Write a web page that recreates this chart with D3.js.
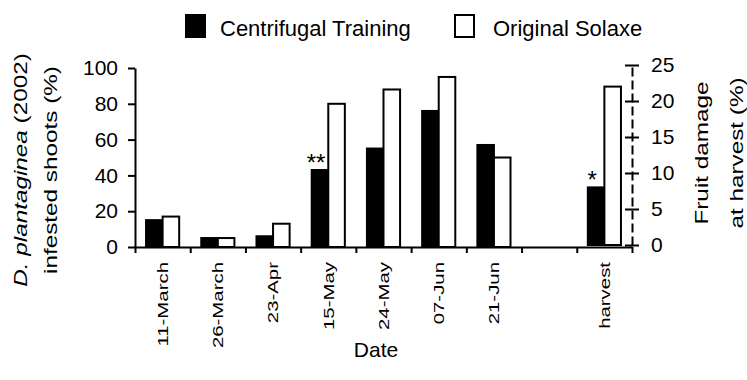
<!DOCTYPE html>
<html>
<head>
<meta charset="utf-8">
<script src="https://cdn.jsdelivr.net/npm/d3@7"></script>
<style>
  body { margin: 0; background: #fff; }
  svg { font-family: "Liberation Sans", Arial, sans-serif; }
  .axis path, .axis line { stroke: #000; stroke-width: 2; }
  .axis text { font-size: 21px; fill: #000; }
</style>
</head>
<body>
<svg id="chart" width="747" height="380"></svg>
<script>
// dates sampled; the empty slot is a gap before harvest
var dates = ["11-March", "26-March", "23-Apr", "15-May", "24-May", "07-Jun", "21-Jun", "", "harvest"];
// infested shoots (%) for the dates, fruit damage (%) for harvest
var centrifugal = [15, 5, 6, 43, 55, 76, 57, null, 8];
var solaxe = [17, 5, 13, 80, 88, 95, 50, null, 22];
var signif = ["", "", "", "**", "", "", "", "", "*"];
var rightAxisDate = "harvest";
var leftTicks = [0, 20, 40, 60, 80, 100];
var rightTicks = [0, 5, 10, 15, 20, 25];
var keys = ["centrifugal", "solaxe"];
var legendLabels = ["Centrifugal Training", "Original Solaxe"];

var svg = d3.select("#chart");

var x0 = d3.scaleBand()
    .domain(dates)
    .range([135, 632])
    .paddingInner(0.4)
    .paddingOuter(0.2);

var x1 = d3.scaleBand()
    .domain(keys)
    .range([0, x0.bandwidth()]);

var xEdge = d3.scaleLinear()
    .domain([0, dates.length])
    .range([135, 632]);

var yLeft = d3.scaleLinear().domain([0, 100]).range([247, 68]);
var yRight = d3.scaleLinear().domain([0, 25]).range([245, 65]);

var data = dates.map(function(d, i) {
  return { date: d, centrifugal: centrifugal[i], solaxe: solaxe[i], star: signif[i] };
});

function yFor(d) { return d.date === rightAxisDate ? yRight : yLeft; }

// bars
var groups = svg.append("g")
  .selectAll("g")
  .data(data.filter(function(d) { return d.centrifugal !== null; }))
  .enter().append("g")
    .attr("transform", function(d) { return "translate(" + x0(d.date) + ",0)"; });

groups.selectAll("rect")
  .data(function(d) {
    var y = yFor(d);
    return keys.map(function(k) { return { key: k, value: d[k], y: y }; });
  })
  .enter().append("rect")
    .attr("x", function(d) { return x1(d.key); })
    .attr("y", function(d) { return d.y(d.value); })
    .attr("width", x1.bandwidth())
    .attr("height", function(d) { return d.y(0) - d.y(d.value); })
    .attr("fill", function(d) { return d.key === "centrifugal" ? "#000" : "#fff"; })
    .attr("stroke", "#000")
    .attr("stroke-width", 2);

// significance stars
groups.filter(function(d) { return d.star; })
  .append("text")
    .attr("x", x1("centrifugal") + x1.bandwidth() / 2 - 4)
    .attr("y", function(d) { return yFor(d)(d.centrifugal) + 1; })
    .attr("text-anchor", "middle")
    .attr("font-size", 24)
    .attr("fill", "#000")
    .text(function(d) { return d.star; });

// x axis: line with ticks at band edges
svg.append("g")
    .attr("class", "axis")
    .attr("transform", "translate(0,247)")
    .call(d3.axisBottom(xEdge).tickValues(d3.range(dates.length + 1)).tickFormat("").tickSizeInner(6).tickSizeOuter(0));

var xLab = svg.append("g")
    .attr("class", "axis")
    .attr("transform", "translate(0,247)")
    .call(d3.axisBottom(x0).tickSize(0));
xLab.select(".domain").remove();
xLab.selectAll("text")
    .attr("x", 0)
    .attr("y", 0)
    .attr("dy", "0.35em")
    .style("font-size", "15px")
    .attr("text-anchor", "end")
    .attr("transform", "translate(0,15) rotate(-90) scale(1.36,1)");

// left axis
svg.append("g")
    .attr("class", "axis")
    .attr("transform", "translate(135,0)")
    .call(d3.axisLeft(yLeft).tickValues(leftTicks).tickSizeInner(7).tickSizeOuter(0).tickPadding(10));

// right axis, ticks cross the line
var ra = svg.append("g")
    .attr("class", "axis")
    .attr("transform", "translate(632,0)")
    .call(d3.axisRight(yRight).tickValues(rightTicks).tickSizeInner(7).tickSizeOuter(0).tickPadding(12));
ra.selectAll(".tick line").attr("x1", -7);
ra.select(".domain").attr("stroke-dasharray", "9,4");

// axis titles
var lt = svg.append("g")
    .attr("transform", "translate(0,170) rotate(-90) scale(1.35,1)")
    .attr("font-size", 18)
    .attr("text-anchor", "middle");
var l1 = lt.append("text").attr("y", 27);
l1.append("tspan").attr("font-style", "italic").text("D. plantaginea");
l1.append("tspan").text(" (2002)");
lt.append("text").attr("y", 57).text("infested shoots (%)");

var rt = svg.append("g")
    .attr("transform", "translate(0,153) rotate(-90) scale(1.35,1)")
    .attr("font-size", 18)
    .attr("text-anchor", "middle");
rt.append("text").attr("y", 708).text("Fruit damage");
rt.append("text").attr("y", 743).text("at harvest (%)");

svg.append("text")
    .attr("x", 376)
    .attr("y", 357)
    .attr("text-anchor", "middle")
    .attr("font-size", 21)
    .text("Date");

// legend
var legX = [185, 454];
var legend = svg.append("g")
  .selectAll("g")
  .data(keys)
  .enter().append("g")
    .attr("transform", function(d, i) { return "translate(" + legX[i] + ",0)"; });

legend.append("rect")
    .attr("x", 1)
    .attr("y", 15)
    .attr("width", 19)
    .attr("height", 22)
    .attr("fill", function(d) { return d === "centrifugal" ? "#000" : "#fff"; })
    .attr("stroke", "#000")
    .attr("stroke-width", 2);

legend.append("text")
    .attr("x", function(d, i) { return i === 0 ? 35 : 39; })
    .attr("y", 36)
    .attr("font-size", 22)
    .text(function(d, i) { return legendLabels[i]; });
</script>
</body>
</html>
